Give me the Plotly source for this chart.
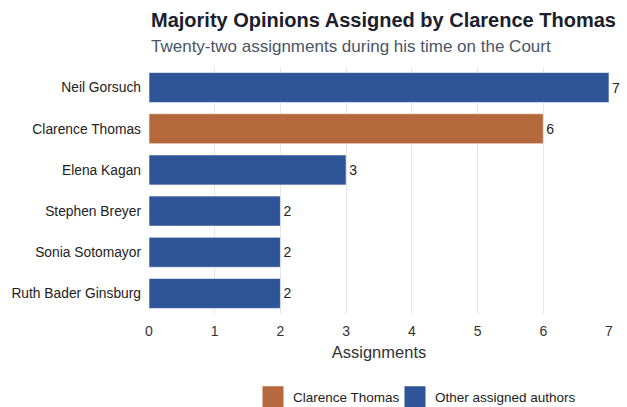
import plotly.graph_objects as go

# Majority opinions assigned by Clarence Thomas, per author
authors = ["Neil Gorsuch", "Clarence Thomas", "Elena Kagan",
           "Stephen Breyer", "Sonia Sotomayor", "Ruth Bader Ginsburg"]
assignments = [7, 6, 3, 2, 2, 2]
highlight_author = "Clarence Thomas"

ORANGE = "#b4683c"
BLUE = "#2e5597"
FONT = "Liberation Sans, Arial, sans-serif"

self_x = [v for a, v in zip(authors, assignments) if a == highlight_author]
self_y = [a for a in authors if a == highlight_author]
other_x = [v for a, v in zip(authors, assignments) if a != highlight_author]
other_y = [a for a in authors if a != highlight_author]

fig = go.Figure()

for name, xs, ys, color, leg in [
    ("Clarence Thomas", self_x, self_y, ORANGE, "legend"),
    ("Other assigned authors", other_x, other_y, BLUE, "legend2"),
]:
    fig.add_trace(go.Bar(
        x=xs, y=ys, orientation="h", name=name,
        marker=dict(color=color, line=dict(color="rgba(255,255,255,0.6)", width=1)),
        text=[str(v) for v in xs], textposition="outside",
        textfont=dict(size=14, color="#222222", family=FONT),
        cliponaxis=False, showlegend=False,
    ))
    # larger square swatch for the legend entry
    fig.add_trace(go.Scatter(
        x=[None], y=[None], mode="markers", name=name, legend=leg,
        marker=dict(symbol="square", size=20, color=color,
                    line=dict(color=color, width=5)),
        showlegend=True,
    ))

legend_style = dict(
    orientation="h", xref="container", yref="container",
    xanchor="left", y=10 / 407, yanchor="middle",
    bgcolor="rgba(0,0,0,0)",
    font=dict(size=13.5, color="#222222"), itemwidth=30,
)

fig.update_layout(
    width=627, height=407,
    margin=dict(l=149, r=18, t=67, b=93),
    paper_bgcolor="white", plot_bgcolor="white",
    font=dict(family=FONT, color="#333333"),
    bargap=0.27,
    barmode="overlay",
    xaxis=dict(
        range=[0, 7], dtick=1, showgrid=True, gridcolor="#e6e6e6", gridwidth=1,
        zeroline=False, showline=False, ticks="", automargin=False,
        ticklabelstandoff=7,
        tickfont=dict(size=14, color="#333333"),
        title=dict(text="Assignments", font=dict(size=16.5, color="#333333"), standoff=8),
    ),
    yaxis=dict(
        categoryorder="array", categoryarray=authors[::-1],
        showgrid=False, zeroline=False, showline=False, ticks="", automargin=False,
        ticklabelstandoff=7,
        tickfont=dict(size=13.8, color="#222222"),
    ),
    legend=dict(x=253 / 627, **legend_style),
    legend2=dict(x=395 / 627, **legend_style),
    annotations=[
        dict(text="<b>Majority Opinions Assigned by Clarence Thomas</b>",
             xref="paper", yref="paper", x=0, y=1.19, xanchor="left", yanchor="middle",
             showarrow=False, font=dict(size=20, color="#1a202c", family=FONT)),
        dict(text="Twenty-two assignments during his time on the Court",
             xref="paper", yref="paper", x=0, y=1.081, xanchor="left", yanchor="middle",
             showarrow=False, font=dict(size=17, color="#4a5568", family=FONT)),
    ],
)

fig.write_html("out.html")
